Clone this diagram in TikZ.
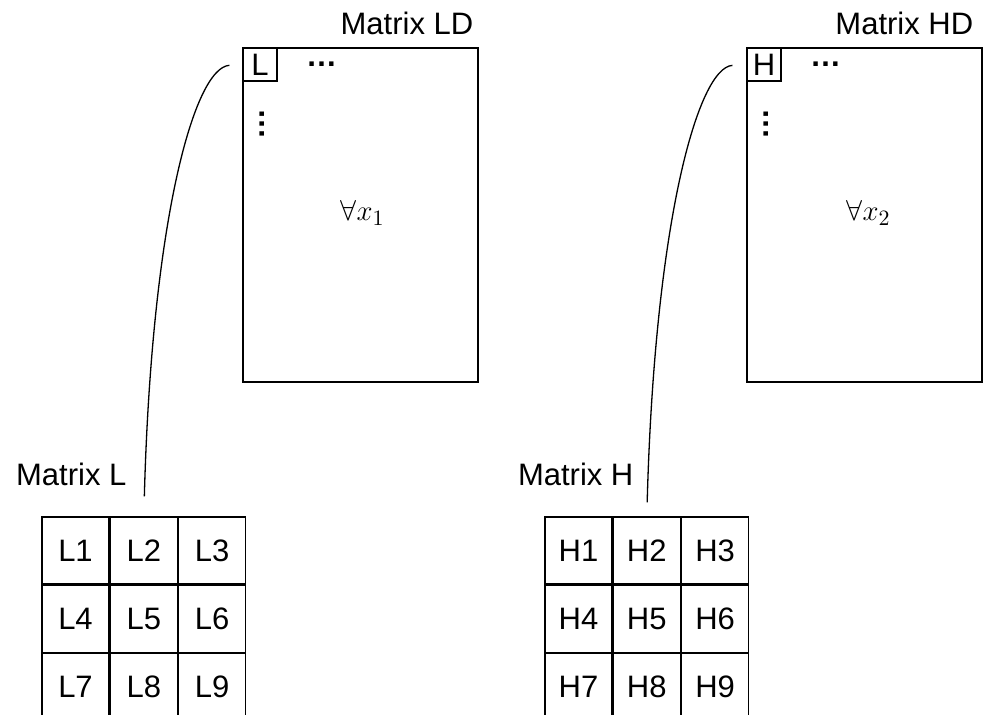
\documentclass[tikz,border=0pt]{standalone}
\usepackage{fontspec}
\setmainfont{Liberation Sans}
\usetikzlibrary{positioning, calc}
\tikzstyle{bigmat} = [rectangle, draw=black, line width=0.65pt, minimum width=117.5pt, minimum height=167pt, inner sep=0pt]
\tikzstyle{corner} = [rectangle, draw=black, line width=0.65pt, minimum width=17pt, minimum height=16.5pt, inner sep=0pt, anchor=north west]
\tikzstyle{cell} = [rectangle, draw=black, line width=0.65pt, minimum width=33.5pt, minimum height=33.5pt, inner sep=0pt]
\tikzstyle{lbl} = [inner sep=0pt]
\tikzstyle{dots} = [inner sep=0pt, font=\fontsize{15.5pt}{18pt}\selectfont\bfseries]
\tikzstyle{link} = [line width=0.65pt]
\begin{document}
\begin{tikzpicture}[x=0.5pt, y=-0.5pt, node distance=0pt, every node/.style={font=\fontsize{15.5pt}{18pt}\selectfont}]
      \useasboundingbox (0,0) rectangle (986,714);

      % Ma trận lớn
      \node[bigmat] (LD) at (360.5,215) {};
      \node[bigmat] (HD) at (864.5,215) {};
      \node[lbl, above left=6pt and 2.5pt of LD.north east] (LDname) {Matrix LD};
      \node[lbl, above left=6pt and 4.5pt of HD.north east] (HDname) {Matrix HD};

      % Ô góc và dấu chấm
      \node[corner] (Lcorner) at (LD.north west) {L};
      \node[corner] (Hcorner) at (HD.north west) {H};
      \node[dots, right=14pt of Lcorner] (Lhdots) {…};
      \node[dots, right=14pt of Hcorner] (Hhdots) {…};
      \node[dots, rotate=90] (Lvdots) at ($(Lcorner.south)+(2,42)$) {…};
      \node[dots, rotate=90] (Hvdots) at ($(Hcorner.south)+(2,42)$) {…};
      \node (Lall) at ($(LD.center)+(2,-2)$) {$\forall x_1$};
      \node (Hall) at ($(HD.center)+(4,-2)$) {$\forall x_2$};

      % Lưới L
      \node[cell] (L1) at (75.5,550.5) {L1};
      \node[cell, right=of L1] (L2) {L2};
      \node[cell, right=of L2] (L3) {L3};
      \node[cell, below=of L1] (L4) {L4};
      \node[cell, right=of L4] (L5) {L5};
      \node[cell, right=of L5] (L6) {L6};
      \node[cell, below=of L4] (L7) {L7};
      \node[cell, right=of L7] (L8) {L8};
      \node[cell, right=of L8] (L9) {L9};

      % Lưới H
      \node[cell] (H1) at (578.5,550.5) {H1};
      \node[cell, right=of H1] (H2) {H2};
      \node[cell, right=of H2] (H3) {H3};
      \node[cell, below=of H1] (H4) {H4};
      \node[cell, right=of H4] (H5) {H5};
      \node[cell, right=of H5] (H6) {H6};
      \node[cell, below=of H4] (H7) {H7};
      \node[cell, right=of H7] (H8) {H8};
      \node[cell, right=of H8] (H9) {H9};

      \node[lbl, above left=15pt and 8.5pt of L2.north] (Lname) {Matrix L};
      \node[lbl, above left=15pt and 6.5pt of H2.north] (Hname) {Matrix H};

      % Đường nối
      \draw[link, shorten <=6.5pt, shorten >=10pt] (Lcorner.west) .. controls +(-48,3) and +(8,-297) .. (L2.north);
      \draw[link, shorten <=7pt, shorten >=7pt] (Hcorner.west) .. controls +(-48,3) and +(8,-297) .. (H2.north);
    \end{tikzpicture}
\end{document}
